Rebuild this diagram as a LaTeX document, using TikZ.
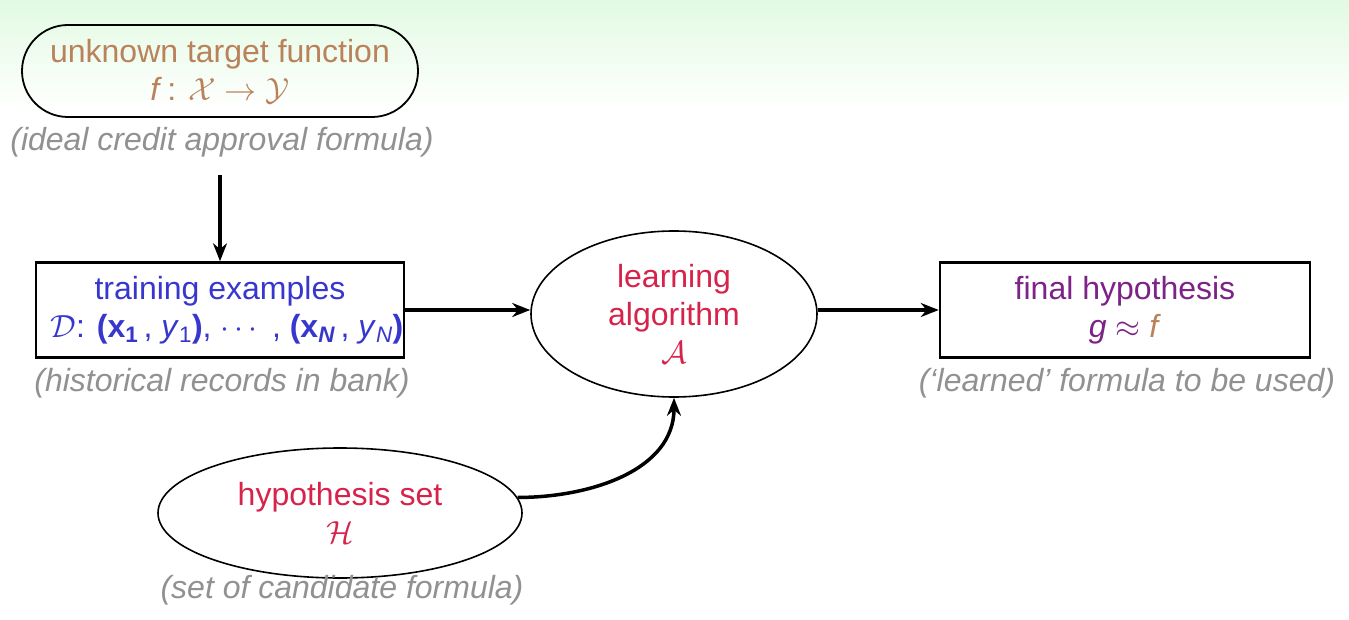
\RequirePackage{fix-cm}
\documentclass[tikz,border=0pt]{standalone}
\usepackage{fontspec}
\setmainfont{Liberation Sans}
\usetikzlibrary{shapes.geometric,arrows.meta}
\definecolor{tbrown}{RGB}{185,130,90}
\definecolor{tblue}{RGB}{55,55,205}
\definecolor{tred}{RGB}{215,35,75}
\definecolor{tpurple}{RGB}{125,35,135}
\definecolor{tgray}{RGB}{145,145,145}
\definecolor{bggreen}{RGB}{226,250,226}
\begin{document}
\begin{tikzpicture}[x=1pt,y=-1pt,
  font=\fontsize{32}{38}\selectfont,
  box/.style={draw, line width=2.5pt, minimum width=368pt, minimum height=95pt, inner sep=0pt, align=center},
  oval/.style={draw, ellipse, line width=1.6pt, inner sep=0pt, align=center},
  stadium/.style={draw, rectangle, rounded corners=46pt, line width=1.8pt, minimum width=396pt, minimum height=92pt, inner sep=0pt, align=center},
  capt/.style={font=\fontsize{32}{38}\selectfont\itshape, text=tgray},
  arr/.style={-{Stealth[length=18pt,width=14pt]}, line width=3.5pt}]
\useasboundingbox (0,0) rectangle (1349,620);
\fill[white] (0,0) rectangle (1349,620);
\shade[top color=bggreen, bottom color=white] (0,0) rectangle (1349,110);

\node[stadium, text=tbrown] (f) at (220,71) {unknown target function\\ \textit{f}\,: $\mathcal{X}\to\mathcal{Y}$};
\node[capt] (fc) at (222,142) {(ideal credit approval formula)};
\coordinate (fs) at (220,175);

\node[box, text=tblue] (d) at (220,310) {training examples\\ \hspace*{14pt}$\mathcal{D}$: \textbf{(}\textbf{x}\textsubscript{\textbf{1}}\,, \textit{y}\textsubscript{1}\textbf{)}, $\cdots$\, , \textbf{(}\textbf{x}\textsubscript{\textbf{\textit{N}}}\,, \textit{y}\textsubscript{\textit{N}}\textbf{)}};
\node[capt] (dc) at (222,383) {(historical records in bank)};

\node[oval, text=tred, minimum width=286pt, minimum height=166pt] (a) at (674,314) {learning\\ algorithm\\ $\mathcal{A}$};

\node[box, text=tpurple, minimum width=370pt] (g) at (1125,310) {final hypothesis\\ \textit{g} $\approx$ \textcolor{tbrown}{\textit{f}}};
\node[capt] (gc) at (1127,383) {(`learned' formula to be used)};

\node[oval, text=tred, minimum width=364pt, minimum height=130pt] (h) at (340,513) {hypothesis set\\ $\mathcal{H}$};
\node[capt] (hc) at (342,590) {(set of candidate formula)};

\draw[arr] (fs) -- (d.north);
\draw[arr] (d.east) -- (d.east -| a.west);
\draw[arr] (a.east |- g.west) -- (g.west);
\draw[arr] (h.5) to[out=0,in=-90] (a.south);
\end{tikzpicture}
\end{document}
